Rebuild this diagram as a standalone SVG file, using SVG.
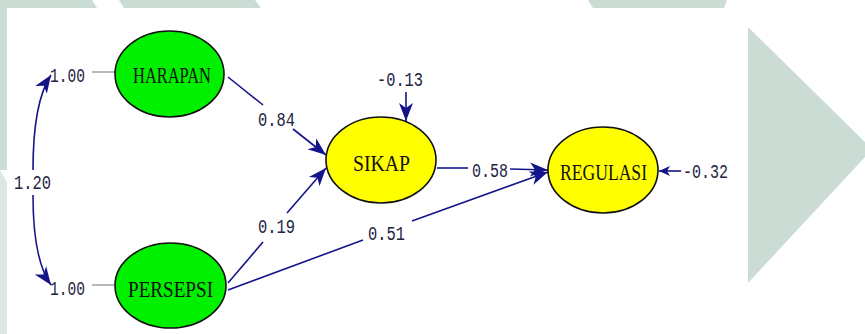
<svg xmlns="http://www.w3.org/2000/svg" width="865" height="334" viewBox="0 0 865 334">
<style>
.node ellipse{stroke:#111;stroke-width:1.6}
.g{fill:#00f000}
.y{fill:#ffff00}
.nt{font-family:"Liberation Serif","DejaVu Serif",serif;font-size:24px;fill:#111}
.lbl{font-family:"Liberation Mono","DejaVu Sans Mono",monospace;font-size:20px;fill:#23233f}
.edge{stroke:#14148a;stroke-width:1.6;fill:none}
.tie{stroke:#a0a0a0;stroke-width:1.5}
.wm{fill:#cbdcd4}
</style>
<defs>
<marker id="ah" markerUnits="userSpaceOnUse" markerWidth="22" markerHeight="16" viewBox="-20 -8 22 16" refX="0" refY="0" orient="auto">
<path d="M0,0 L-18,-7 L-13,0 L-18,7 Z" fill="#14148a"/>
</marker>
<marker id="ahs" markerUnits="userSpaceOnUse" markerWidth="14" markerHeight="12" viewBox="-12 -6 14 12" refX="0" refY="0" orient="auto">
<path d="M0,0 L-11,-5 L-8,0 L-11,5 Z" fill="#14148a"/>
</marker>
</defs>
<rect width="865" height="334" fill="#ffffff"/>
<g id="background">
<polygon class="wm" points="0,0 92,0 97,8 0,8"/>
<polygon class="wm" points="119,0 255,0 261,8 124,8"/>
<polygon class="wm" points="588,0 727,0 724,8 593,8"/>
<rect class="wm" x="0" y="0" width="7" height="170"/>
<polygon fill="#dde8e3" points="0,170 7,182 7,334 0,334"/>
<polygon class="wm" points="748,27 865,142 865,157 748,283"/>
</g>
<g id="connectors">
<path class="edge" d="M33,170 Q33,102 51,75" marker-end="url(#ah)"/>
<path class="edge" d="M33,195 Q33,260 51,285" marker-end="url(#ah)"/>
<line class="tie" x1="92" y1="72" x2="115" y2="72"/>
<line class="tie" x1="92" y1="285" x2="115" y2="285"/>
<line class="edge" x1="228" y1="77" x2="263" y2="105"/>
<line class="edge" x1="293" y1="129" x2="326" y2="155" marker-end="url(#ah)"/>
<line class="edge" x1="228" y1="283" x2="263" y2="242"/>
<line class="edge" x1="287" y1="213" x2="326" y2="168" marker-end="url(#ah)"/>
<line class="edge" x1="437" y1="168" x2="468" y2="168"/>
<line class="edge" x1="510" y1="169" x2="548" y2="170" marker-end="url(#ah)"/>
<line class="edge" x1="228" y1="290" x2="363" y2="240"/>
<line class="edge" x1="412" y1="221" x2="548" y2="172" marker-end="url(#ah)"/>
<line class="edge" x1="406" y1="92" x2="406" y2="121" marker-end="url(#ah)"/>
<line class="edge" x1="681" y1="171" x2="659" y2="171" marker-end="url(#ahs)"/>
</g>
<g id="labels">
<text class="lbl" x="50" y="82" textLength="35" lengthAdjust="spacingAndGlyphs">1.00</text>
<text class="lbl" x="50" y="295" textLength="35" lengthAdjust="spacingAndGlyphs">1.00</text>
<text class="lbl" x="14" y="189" textLength="37" lengthAdjust="spacingAndGlyphs">1.20</text>
<text class="lbl" x="258" y="126" textLength="37" lengthAdjust="spacingAndGlyphs">0.84</text>
<text class="lbl" x="258" y="233" textLength="37" lengthAdjust="spacingAndGlyphs">0.19</text>
<text class="lbl" x="472" y="177" textLength="36" lengthAdjust="spacingAndGlyphs">0.58</text>
<text class="lbl" x="368" y="240" textLength="37" lengthAdjust="spacingAndGlyphs">0.51</text>
<text class="lbl" x="377" y="86" textLength="46" lengthAdjust="spacingAndGlyphs">-0.13</text>
<text class="lbl" x="683" y="178" textLength="45" lengthAdjust="spacingAndGlyphs">-0.32</text>
</g>
<g id="HARAPAN" class="node">
<ellipse class="g" cx="169.5" cy="74" rx="54.5" ry="43"/>
<text class="nt" x="133" y="83" textLength="78" lengthAdjust="spacingAndGlyphs">HARAPAN</text>
</g>
<g id="PERSEPSI" class="node">
<ellipse class="g" cx="170.5" cy="285.5" rx="55.5" ry="42.5"/>
<text class="nt" x="128" y="297" textLength="85" lengthAdjust="spacingAndGlyphs">PERSEPSI</text>
</g>
<g id="SIKAP" class="node">
<ellipse class="y" cx="381" cy="160" rx="55" ry="43"/>
<text class="nt" x="353" y="171" textLength="57" lengthAdjust="spacingAndGlyphs">SIKAP</text>
</g>
<g id="REGULASI" class="node">
<ellipse class="y" cx="603" cy="170" rx="55" ry="43"/>
<text class="nt" x="560" y="180" textLength="87" lengthAdjust="spacingAndGlyphs">REGULASI</text>
</g>
</svg>
